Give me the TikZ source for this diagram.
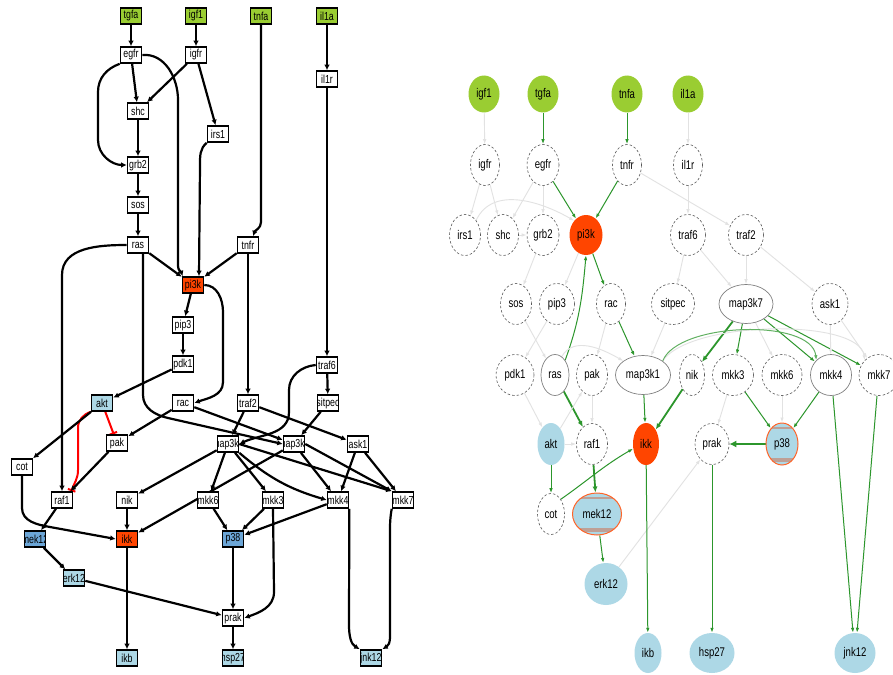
\documentclass[tikz,border=0pt]{standalone}
\usepackage{fontspec}
\newfontfamily\nar[FakeStretch=0.76]{Liberation Sans}
\usetikzlibrary{arrows.meta,shapes.geometric}
\pgfdeclarelayer{bg}
\pgfsetlayers{bg,main}
\definecolor{lgreen}{RGB}{154,205,50}
\definecolor{ored}{RGB}{255,69,0}
\definecolor{lblue}{RGB}{173,216,230}
\definecolor{mblue}{RGB}{108,166,215}
\definecolor{egreen}{RGB}{44,150,44}
\definecolor{egrey}{RGB}{226,226,226}
\definecolor{dgrey}{RGB}{90,90,90}
\definecolor{oborder}{RGB}{255,100,40}
\definecolor{stripe}{RGB}{190,160,150}
\begin{document}
\begin{tikzpicture}[x=1pt,y=-1pt,
 lb/.style={draw=black,line width=1.6pt,fill=white,minimum width=21pt,minimum height=16pt,inner sep=0pt,
   path picture={\node[draw=none,fill=none,minimum size=0pt,font=\nar\fontsize{11.6}{12}\selectfont,inner sep=0pt] at (path picture bounding box.center) {#1};}},
 le/.style={line width=2.2pt,-{Latex[length=5.5pt,width=5.5pt]}},
 li/.style={red,line width=2pt,-{Bar[width=8pt,line width=2pt]}},
 rn/.style={ellipse,inner sep=0pt,fill=white,font=\nar\fontsize{12.6}{13}\selectfont},
 rd/.style={rn,draw=dgrey,dashed,dash pattern=on 2.5pt off 2pt,line width=0.6pt},
 rs/.style={rn,draw=gray,line width=0.7pt},
 rsz/.style 2 args={minimum width=#1pt,minimum height=#2pt},
 stripes/.style={path picture={
   \fill[stripe] ([yshift=-4pt]path picture bounding box.north west) rectangle ([yshift=-6pt]path picture bounding box.north east);
   \fill[stripe] ([yshift=3pt]path picture bounding box.south west) rectangle ([yshift=7pt]path picture bounding box.south east);}},
 ge/.style={egreen,line width=1pt,-{Latex[length=5pt,width=3.5pt]}},
 gt/.style={egreen,line width=1.8pt,-{Latex[length=6pt,width=5pt]}},
 gr/.style={egrey,line width=0.9pt,-{Latex[length=5pt,width=3.5pt]}}
]
\useasboundingbox (0,0) rectangle (893,674);

% ---------------- left graph nodes ----------------
\node[lb=tgfa,fill=lgreen] (Ltgfa) at (131,16) {};
\node[lb=igf1,fill=lgreen] (Ligf1) at (196,16) {};
\node[lb=tnfa,fill=lgreen] (Ltnfa) at (261,16) {};
\node[lb=il1a,fill=lgreen] (Lil1a) at (327,16) {};
\node[lb=egfr] (Legfr) at (131,55) {};
\node[lb=igfr] (Ligfr) at (196,55) {};
\node[lb=il1r] (Lil1r) at (327,79) {};
\node[lb=shc] (Lshc) at (138,111) {};
\node[lb=irs1] (Lirs1) at (218,134) {};
\node[lb=grb2] (Lgrb2) at (138,165) {};
\node[lb=sos] (Lsos) at (138,205) {};
\node[lb=ras] (Lras) at (138,245) {};
\node[lb=tnfr] (Ltnfr) at (248,245) {};
\node[lb=pi3k,fill=ored] (Lpi3k) at (193,285) {};
\node[lb=pip3] (Lpip3) at (183,325) {};
\node[lb=pdk1] (Lpdk1) at (183,364) {};
\node[lb=traf6] (Ltraf6) at (327,365) {};
\node[lb=akt,fill=lblue] (Lakt) at (102,403) {};
\node[lb=rac] (Lrac) at (183,403) {};
\node[lb=traf2] (Ltraf2) at (248,403) {};
\node[lb=sitpec] (Lsitpec) at (328,403) {};
\node[lb=pak] (Lpak) at (117,443) {};
\node[lb=map3k7] (Lmap3k) at (228,444) {};
\node[lb=map3k1] (Lmap3k1) at (294,444) {};
\node[lb=ask1] (Lask1) at (358,444) {};
\node[lb=cot] (Lcot) at (22,467) {};
\node[lb=raf1] (Lraf1) at (62,500) {};
\node[lb=nik] (Lnik) at (127,500) {};
\node[lb=mkk6] (Lmkk6) at (208,500) {};
\node[lb=mkk3] (Lmkk3) at (273,500) {};
\node[lb=mkk4] (Lmkk4) at (338,500) {};
\node[lb=mkk7] (Lmkk7) at (403,500) {};
\node[lb=mek12,fill=mblue] (Lmek12) at (35,539) {};
\node[lb=ikk,fill=ored] (Likk) at (127,539) {};
\node[lb=p38,fill=mblue] (Lp38) at (233,539) {};
\node[lb=erk12,fill=lblue] (Lerk12) at (74,578) {};
\node[lb=prak] (Lprak) at (233,618) {};
\node[lb=ikb,fill=lblue] (Likb) at (127,658) {};
\node[lb=hsp27,fill=lblue] (Lhsp27) at (233,658) {};
\node[lb=jnk12,fill=lblue] (Ljnk12) at (371,658) {};

% ---------------- right graph nodes ----------------
\node[rn,fill=lgreen,rsz={31}{37}] (Rigf1) at (484,94) {igf1};
\node[rn,fill=lgreen,rsz={31}{37}] (Rtgfa) at (543,94) {tgfa};
\node[rn,fill=lgreen,rsz={31}{37}] (Rtnfa) at (627,94) {tnfa};
\node[rn,fill=lgreen,rsz={31}{37}] (Ril1a) at (688,94) {il1a};
\node[rd,rsz={29}{41}] (Rigfr) at (485,165) {igfr};
\node[rd,rsz={32}{41}] (Regfr) at (543,165) {egfr};
\node[rd,rsz={29}{41}] (Rtnfr) at (627,165) {tnfr};
\node[rd,rsz={29}{41}] (Ril1r) at (688,165) {il1r};
\node[rd,rsz={31}{41}] (Rirs1) at (465,235) {irs1};
\node[rd,rsz={31}{41}] (Rshc) at (503,235) {shc};
\node[rd,rsz={32}{41}] (Rgrb2) at (543,235) {grb2};
\node[rn,fill=ored,rsz={33}{40}] (Rpi3k) at (586,235) {pi3k};
\node[rd,rsz={35}{41}] (Rtraf6) at (688,235) {traf6};
\node[rd,rsz={35}{41}] (Rtraf2) at (746,235) {traf2};
\node[rd,rsz={31}{41}] (Rsos) at (516,304) {sos};
\node[rd,rsz={35}{41}] (Rpip3) at (557,304) {pip3};
\node[rd,rsz={29}{41}] (Rrac) at (611,304) {rac};
\node[rd,rsz={43}{41}] (Rsitpec) at (673,304) {sitpec};
\node[rs,rsz={54}{39}] (Rmap3k7) at (746,304) {map3k7};
\node[rd,rsz={36}{41}] (Rask1) at (830,304) {ask1};
\node[rd,rsz={38}{41}] (Rpdk1) at (515,375) {pdk1};
\node[rs,rsz={28}{41}] (Rras) at (555,375) {ras};
\node[rd,rsz={31}{41}] (Rpak) at (592,375) {pak};
\node[rs,rsz={55}{39}] (Rmap3k1) at (643,375) {map3k1};
\node[rd,rsz={25}{41}] (Rnik) at (692,375) {nik};
\node[rd,rsz={41}{41}] (Rmkk3) at (733,375) {mkk3};
\node[rd,rsz={40}{41}] (Rmkk6) at (782,375) {mkk6};
\node[rs,rsz={41}{41}] (Rmkk4) at (831,375) {mkk4};
\node[rd,rsz={40}{41}] (Rmkk7) at (879,375) {mkk7};
\node[rn,fill=lblue,rsz={27}{42}] (Rakt) at (551,444) {akt};
\node[rd,rsz={31}{41}] (Rraf1) at (592,444) {raf1};
\node[rn,fill=ored,rsz={26}{42}] (Rikk) at (646,444) {ikk};
\node[rd,rsz={34}{41}] (Rprak) at (712,444) {prak};
\node[rn,fill=lblue,draw=oborder,line width=1pt,stripes,rsz={32}{42}] (Rp38) at (782,444) {p38};
\node[rd,rsz={27}{41}] (Rcot) at (551,514) {cot};
\node[rn,fill=lblue,draw=oborder,line width=1pt,stripes,rsz={49}{42}] (Rmek12) at (597,514) {mek12};
\node[rn,fill=lblue,rsz={43}{42}] (Rerk12) at (606,584) {erk12};
\node[rn,fill=lblue,rsz={27}{40}] (Rikb) at (648,653) {ikb};
\node[rn,fill=lblue,rsz={45}{40}] (Rhsp27) at (712,653) {hsp27};
\node[rn,fill=lblue,rsz={41}{40}] (Rjnk12) at (855,653) {jnk12};

\begin{pgfonlayer}{bg}
\fill[white] (0,0) rectangle (893,674);
% ---------------- left graph edges ----------------
\draw[le] (Ltgfa) -- (Legfr);
\draw[le] (Ligf1) -- (Ligfr);
\draw[le] (Lil1a) -- (Lil1r);
\draw[le] (Legfr) -- (Lshc);
\draw[le] (Ligfr) -- (Lshc);
\draw[le] (Legfr.south west) to[out=200,in=90] (98,92) -- (98,140) to[out=-90,in=180] (Lgrb2.west);
\draw[le] (Ligfr) -- (Lirs1);
\draw[le] (Lshc) -- (Lgrb2);
\draw[le] (Lgrb2) -- (Lsos);
\draw[le] (Lsos) -- (Lras);
\draw[le] (Legfr.east) to[out=5,in=90] (178,100) -- (178,266) to[out=-90,in=110] ([xshift=1pt]Lpi3k.north west);
\draw[le] (Lirs1.south west) to[out=220,in=90] (200,165) -- ([xshift=6pt]Lpi3k.north);
\draw[le] (Ltnfa) -- (261,222) to[out=-90,in=70] ([xshift=5pt]Ltnfr.north);
\draw[le] (Lras) -- (Lpi3k);
\draw[le] (Ltnfr) -- (Lpi3k);
\draw[le] (Lras.west) to[out=180,in=90] (62,275) -- (Lraf1.north);
\draw[le] ([xshift=5pt]Lras.south) -- (143,395) to[out=-90,in=167] (168,418) -- (Lmap3k1.west);
\draw[le] (Lpi3k) -- (Lpip3);
\draw[le] (Lpi3k.east) to[out=0,in=90] (223,312) -- (223,382) to[out=-90,in=20] (Lrac.east);
\draw[le] (Lpip3) -- (Lpdk1);
\draw[le] (Lpdk1) -- (Lakt);
\draw[le] (Ltnfr) -- (Ltraf2);
\draw[le] (Lil1r) -- (Ltraf6);
\draw[le] (Ltraf6) -- (Lsitpec);
\draw[le] (Ltraf6.west) to[out=185,in=90] (289,390) -- (289,412) to[out=-90,in=25] (Lmap3k.east);
\draw[le] (Lsitpec) -- (Lmap3k1);
\draw[le] (Ltraf2) -- (Lmap3k);
\draw[le] (Ltraf2) -- (Lask1);
\draw[le] (Lrac) -- (Lpak);
\draw[le] (Lrac) -- (Lmap3k1);
\draw[li] (Lakt) -- (Lpak);
\draw[li] (Lakt.south west) to[out=200,in=90] (78,428) -- (78,470) to[out=-90,in=70] ([xshift=-2pt]Lraf1.north east);
\draw[le] (Lakt) -- (Lcot);
\draw[le] (Lpak) -- (Lraf1);
\draw[le] (Lcot) -- (22,508) to[out=-90,in=170] (50,527) -- (Likk.west);
\draw[le] (Lraf1) -- (Lmek12);
\draw[le] (Lmek12) -- (Lerk12);
\draw[le] (Lerk12) -- (Lprak);
\draw[le] (Lnik) -- (Likk);
\draw[le] (Lmap3k) -- (Lnik);
\draw[le] (Lmap3k1) -- (Likk);
\draw[le] (Lmap3k) -- (Lmkk6);
\draw[le] (Lmap3k) -- (Lmkk3);
\draw[le] (Lmap3k.south east) to[bend right=12] (Lmkk4.west);
\draw[le] (Lmap3k.east) -- (Lmkk7.north west);
\draw[le] (Lmap3k1) -- (Lmkk4);
\draw[le] (Lmap3k1.east) -- (Lmkk7.north west);
\draw[le] (Lask1) -- (Lmkk4);
\draw[le] (Lask1) -- (Lmkk7);
\draw[le] (Lmkk6) -- (Lp38);
\draw[le] (Lmkk3) -- (Lp38);
\draw[le] (Lmkk4) -- (Lp38);
\draw[le] (Lmkk3.south) -- (274,592) to[out=-90,in=20] (Lprak.east);
\draw[le] (Lp38) -- (Lprak);
\draw[le] (Lprak) -- (Lhsp27);
\draw[le] (Likk) -- (Likb);
\draw[le] (Lmkk4.south east) -- (349,625) to[out=-90,in=150] (Ljnk12.north west);
\draw[le] (Lmkk7.south west) to[out=-100,in=90] (390,540) -- (390,625) to[out=-90,in=30] (Ljnk12.north east);

% ---------------- right graph edges ----------------
\draw[gr] (Rigf1) -- (Rigfr);
\draw[ge] (Rtgfa) -- (Regfr);
\draw[ge] (Rtnfa) -- (Rtnfr);
\draw[gr] (Ril1a) -- (Ril1r);
\draw[gr] (Rigfr) -- (Rirs1);
\draw[gr] (Rigfr) -- (Rshc);
\draw[gr] (Regfr) -- (Rshc);
\draw[gr] (Regfr) -- (Rgrb2);
\draw[ge] (Regfr) -- (Rpi3k);
\draw[ge] (Rtnfr) -- (Rpi3k);
\draw[gr] (Rtnfr) -- (Rtraf2);
\draw[gr] (Rirs1.north east) to[out=65,in=150] (Rpi3k.north west);
\draw[gr] (Rshc) -- (Rgrb2);
\draw[gr] (Rgrb2) -- (Rsos);
\draw[gr] (Ril1r) -- (Rtraf6);
\draw[gr] (Rpi3k) -- (Rpip3);
\draw[ge] (Rpi3k) -- (Rrac);
\draw[ge] (Rras.north east) to[out=70,in=-95] (Rpi3k.south);
\draw[gr] (Rsos) -- (Rras);
\draw[gr] (Rpip3) -- (Rpdk1);
\draw[gr] (Rrac) -- (Rpak);
\draw[ge] (Rrac) -- (Rmap3k1);
\draw[gr] (Rsitpec) -- (Rmap3k1);
\draw[gr] (Rras.70) to[out=60,in=150] (Rmap3k1.north west);
\draw[gr] (Rtraf6) -- (Rsitpec);
\draw[gr] (Rtraf6) -- (Rmap3k7);
\draw[gr] (Rtraf2) -- (Rmap3k7);
\draw[gr] (Rtraf2) -- (Rask1);
\draw[gt] (Rmap3k7) -- (Rnik);
\draw[ge] (Rmap3k7) -- (Rmkk3);
\draw[gr] (Rmap3k7) -- (Rmkk6);
\draw[ge] (Rmap3k7) -- (Rmkk4);
\draw[ge] (Rmap3k7) -- (Rmkk7);
\draw[gr] (Rmap3k1.north east) .. controls (690,320) and (860,318) .. (Rmkk7.north west);
\draw[ge,egreen!75] (Rmap3k1.north east) .. controls (678,322) and (812,318) .. (Rmkk4.north west);
\draw[ge] (Rmap3k1) -- (Rikk);
\draw[gt] (Rnik) -- (Rikk);
\draw[gt] (Rras) -- (Rraf1);
\draw[gr] (Rask1) -- (Rmkk4);
\draw[gr] (Rask1) -- (Rmkk7);
\draw[gr] (Rpak) -- (Rraf1);
\draw[gr] (Rpdk1) -- (Rakt);
\draw[gr] (Rakt) -- (Rpak);
\draw[gr] (Rakt) -- (Rraf1);
\draw[ge] (Rmkk3) -- (Rp38);
\draw[ge] (Rmkk4) -- (Rp38);
\draw[gr] (Rmkk6) -- (Rp38);
\draw[gr] (Rmkk3) -- (Rprak);
\draw[gt,line width=2.6pt,-{Latex[length=7pt,width=7pt]}] (Rp38) -- (Rprak);
\draw[ge] (Rakt) -- (Rcot);
\draw[gt] (Rraf1) -- (Rmek12);
\draw[ge] (Rcot.north east) to[out=35,in=210] (Rikk.200);
\draw[ge] (Rmek12) -- (Rerk12);
\draw[gr] (Rerk12) -- (Rprak);
\draw[ge] (Rikk) -- (Rikb);
\draw[ge] (Rprak) -- (Rhsp27);
\draw[ge] ([xshift=2pt]Rmkk4.south) -- ([xshift=-2pt]Rjnk12.north);
\draw[ge] ([xshift=-2pt]Rmkk7.south) -- ([xshift=2pt]Rjnk12.north);
\end{pgfonlayer}
\end{tikzpicture}
\end{document}
